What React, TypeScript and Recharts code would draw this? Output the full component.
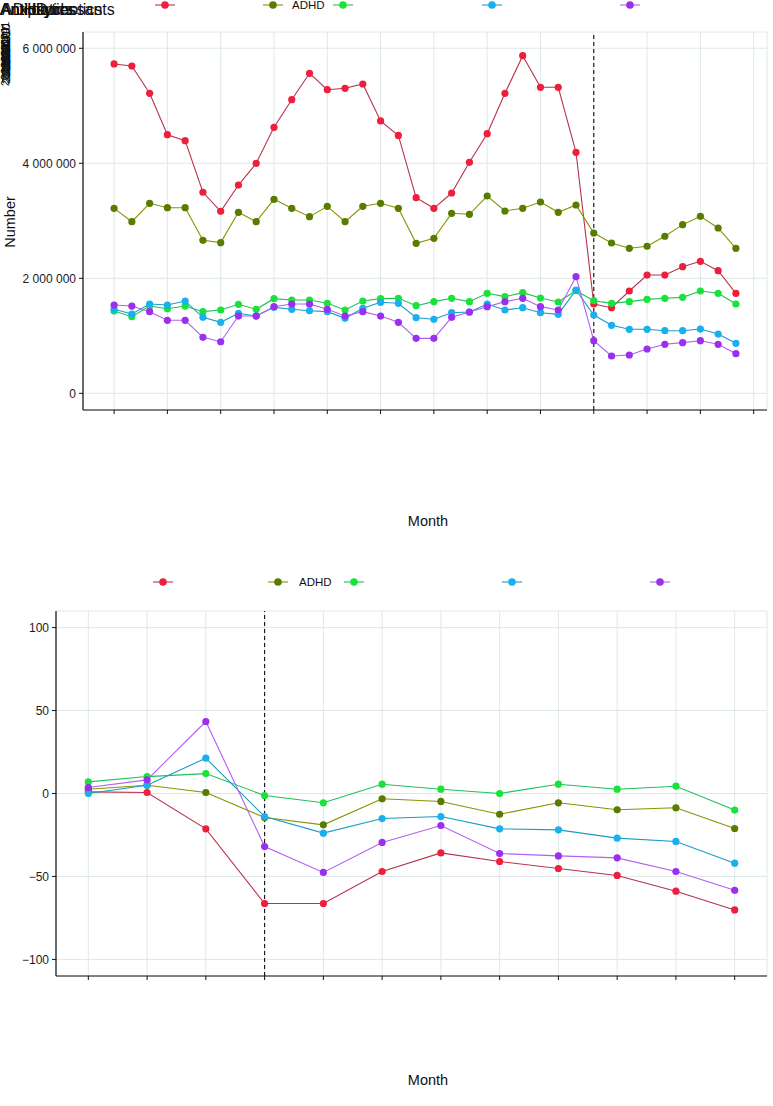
import React from "react";
import { LineChart, Line, XAxis, YAxis, CartesianGrid, ReferenceLine } from "recharts";

// ---------- data ----------
const seriesNames = ["Antibiotics", "ADHD", "Antidepressants", "Antipsychotics", "Anxiolytics"];
const seriesKeys = ["s0", "s1", "s2", "s3", "s4"];
const pointColors = ["#EE1F3D", "#577C00", "#19E33A", "#1AAFEF", "#9A2FF0"];
const lineColors = ["#B8334A", "#8A9300", "#1FC257", "#189DC2", "#B25FF2"];
const legendLabelVisible = [false, true, false, false, false];

// Monthly numbers (36 months), dashed line at month index 27
const monthIndex = Array.from({ length: 36 }, (_, i) => i);
const numS0 = [5727000, 5692000, 5217000, 4497000, 4393000, 3496000, 3165000, 3622000, 4000000, 4626000, 5106000, 5565000, 5280000, 5304000, 5379000, 4736000, 4484000, 3402000, 3217000, 3483000, 4017000, 4515000, 5217000, 5871000, 5321000, 5321000, 4191000, 1553000, 1489000, 1779000, 2057000, 2057000, 2202000, 2295000, 2133000, 1739000];
const numS1 = [3217000, 2985000, 3304000, 3228000, 3228000, 2661000, 2620000, 3148000, 2985000, 3374000, 3217000, 3072000, 3252000, 2985000, 3252000, 3304000, 3217000, 2609000, 2696000, 3130000, 3113000, 3431000, 3170000, 3217000, 3327000, 3148000, 3275000, 2788000, 2614000, 2522000, 2557000, 2731000, 2933000, 3078000, 2875000, 2522000];
const numS2 = [1431000, 1333000, 1518000, 1472000, 1518000, 1420000, 1449000, 1548000, 1461000, 1646000, 1623000, 1623000, 1565000, 1449000, 1605000, 1646000, 1652000, 1524000, 1594000, 1652000, 1594000, 1739000, 1681000, 1750000, 1657000, 1588000, 1785000, 1611000, 1565000, 1594000, 1634000, 1652000, 1669000, 1779000, 1739000, 1553000];
const numS3 = [1461000, 1379000, 1553000, 1536000, 1605000, 1322000, 1235000, 1391000, 1344000, 1495000, 1461000, 1437000, 1420000, 1304000, 1478000, 1583000, 1565000, 1315000, 1287000, 1402000, 1414000, 1553000, 1449000, 1489000, 1402000, 1374000, 1797000, 1362000, 1183000, 1113000, 1113000, 1089000, 1089000, 1118000, 1031000, 870000];
const numS4 = [1536000, 1518000, 1420000, 1270000, 1270000, 974000, 897000, 1344000, 1344000, 1507000, 1553000, 1553000, 1461000, 1344000, 1420000, 1344000, 1235000, 956000, 956000, 1322000, 1414000, 1507000, 1594000, 1652000, 1507000, 1449000, 2028000, 915000, 649000, 666000, 771000, 852000, 881000, 915000, 852000, 689000];
const numTicksX = [0, 3, 6, 9, 12, 15, 18, 21, 24, 27, 30, 33, 36];
const numTicksY = [0, 2000000, 4000000, 6000000];
const numBreak = 27;

// Percent change (12 months), dashed line at index 3
const pctIndex = Array.from({ length: 12 }, (_, i) => i);
const pctS0 = [1, 0.6, -21.3, -66.3, -66.3, -47.0, -35.8, -41.0, -45.2, -49.4, -58.9, -70.2];
const pctS1 = [2.6, 5.0, 0.6, -14.5, -18.9, -3.2, -4.8, -12.5, -5.6, -9.8, -8.6, -21.1];
const pctS2 = [7.0, 10.2, 12.0, -1.2, -5.6, 5.6, 2.6, 0, 5.6, 2.6, 4.4, -10.0];
const pctS3 = [0, 5.0, 21.3, -13.9, -23.9, -15.1, -13.9, -21.3, -21.9, -26.9, -28.9, -42.0];
const pctS4 = [3.6, 8.2, 43.4, -32.0, -47.6, -29.5, -19.3, -36.2, -37.6, -38.8, -47.0, -58.3];
const pctTicksY = [-100, -50, 0, 50, 100];
const pctBreak = 3;

const xTickLabels = ["2018-01", "2018-04", "2018-07", "2018-10", "2019-01", "2019-04", "2019-07", "2019-10", "2020-01", "2020-04", "2020-07", "2020-10", "2021-01"];

// ---------- helpers ----------
const numRows = monthIndex.map((i) => ({ i, s0: numS0[i], s1: numS1[i], s2: numS2[i], s3: numS3[i], s4: numS4[i] }));
const pctRows = pctIndex.map((i) => ({ i, s0: pctS0[i], s1: pctS1[i], s2: pctS2[i], s3: pctS3[i], s4: pctS4[i] }));

const FONT = "'Liberation Sans', Arial, sans-serif";
const GRID = "#DFE8E8";
const fmtSpace = (v: number) => String(v).replace(/\B(?=(\d{3})+(?!\d))/g, " ");
const fmtMinus = (v: number) => (v < 0 ? "\u2212" + Math.abs(v) : String(v));

function seriesLines() {
  return seriesKeys.map((k, idx) => (
    <Line
      key={k}
      type="linear"
      dataKey={k}
      stroke={lineColors[idx]}
      strokeWidth={1.1}
      dot={{ r: 3.6, fill: pointColors[idx], stroke: "none" }}
      activeDot={false}
      isAnimationActive={false}
    />
  ));
}

function LegendRow({ y, keyX, textX }: { y: number; keyX: number[]; textX: number[] }) {
  return (
    <g>
      {seriesKeys.map((k, idx) => (
        <g key={k}>
          <line x1={keyX[idx] - 10} x2={keyX[idx] + 10} y1={y} y2={y} stroke={lineColors[idx]} strokeWidth={1.1} />
          <circle cx={keyX[idx]} cy={y} r={3.8} fill={pointColors[idx]} />
          {legendLabelVisible[idx] && (
            <text x={textX[idx]} y={y + 4} fontSize={11.5} fontFamily={FONT} fill="#111">
              {seriesNames[idx]}
            </text>
          )}
        </g>
      ))}
    </g>
  );
}

export default function App() {
  return (
    <div style={{ position: "absolute", left: 0, top: 0, width: 773, height: 1106, background: "#fff", fontFamily: FONT }}>
      {/* Top panel: numbers */}
      <div style={{ position: "absolute", left: 0, top: 0 }}>
        <LineChart width={773} height={560} data={numRows} margin={{ top: 32, right: 6, bottom: 130, left: 13 }}>
          <CartesianGrid stroke={GRID} strokeWidth={1} />
          <XAxis
            dataKey="i"
            type="number"
            domain={[-1.75, 36.75]}
            allowDataOverflow
            ticks={numTicksX}
            tickFormatter={() => ""}
            tickSize={4}
            height={20}
            axisLine={{ stroke: "#111", strokeWidth: 1.2 }}
            tickLine={{ stroke: "#111" }}
            interval={0}
          />
          <XAxis xAxisId="top" dataKey="i" type="number" orientation="top" domain={[-1.75, 36.75]} allowDataOverflow height={0} tick={false} tickLine={false} axisLine={{ stroke: "#111", strokeWidth: 1.2 }} />
          <YAxis
            type="number"
            domain={[-290000, 6283000]}
            allowDataOverflow
            ticks={numTicksY}
            tickFormatter={fmtSpace}
            width={70}
            tickSize={4}
            tickMargin={3}
            interval={0}
            axisLine={{ stroke: "#111", strokeWidth: 1.2 }}
            tickLine={{ stroke: "#111" }}
            tick={{ fill: "#1a1a2a", fontSize: 12, fontFamily: FONT }}
          />
          <YAxis yAxisId="right" orientation="right" type="number" domain={[0, 1]} width={0} tick={false} tickLine={false} axisLine={{ stroke: "#111", strokeWidth: 1.2 }} />
          <ReferenceLine x={numBreak} stroke="#111" strokeWidth={1.1} strokeDasharray="4 3" />
          {seriesLines()}
        </LineChart>
      </div>

      {/* Bottom panel: percent change */}
      <div style={{ position: "absolute", left: 0, top: 560 }}>
        <LineChart width={773} height={546} data={pctRows} margin={{ top: 51, right: 6, bottom: 110, left: 16 }}>
          <CartesianGrid stroke={GRID} strokeWidth={1} />
          <XAxis
            dataKey="i"
            type="number"
            domain={[-0.55, 11.55]}
            allowDataOverflow
            ticks={pctIndex}
            tickFormatter={() => ""}
            tickSize={4}
            height={20}
            interval={0}
            axisLine={{ stroke: "#111", strokeWidth: 1.2 }}
            tickLine={{ stroke: "#111" }}
          />
          <XAxis xAxisId="top" dataKey="i" type="number" orientation="top" domain={[-0.55, 11.55]} allowDataOverflow height={0} tick={false} tickLine={false} axisLine={{ stroke: "#111", strokeWidth: 1.2 }} />
          <YAxis
            type="number"
            domain={[-110, 110]}
            allowDataOverflow
            ticks={pctTicksY}
            tickFormatter={fmtMinus}
            width={40}
            tickSize={4}
            tickMargin={3}
            interval={0}
            axisLine={{ stroke: "#111", strokeWidth: 1.2 }}
            tickLine={{ stroke: "#111" }}
            tick={{ fill: "#1a1a2a", fontSize: 12, fontFamily: FONT }}
          />
          <YAxis yAxisId="right" orientation="right" type="number" domain={[0, 1]} width={0} tick={false} tickLine={false} axisLine={{ stroke: "#111", strokeWidth: 1.2 }} />
          <ReferenceLine x={pctBreak} stroke="#111" strokeWidth={1.1} strokeDasharray="4 3" />
          {seriesLines()}
        </LineChart>
      </div>

      {/* Overlay: legends, titles, overlapping labels */}
      <svg width={773} height={1106} style={{ position: "absolute", left: 0, top: 0, pointerEvents: "none" }}>
        {/* overlapping legend labels at top-left */}
        {seriesNames.map((n, idx) => (
          <text key={"ov" + idx} x={idx === 1 ? 2 : 0} y={15} fontSize={16} fontFamily={FONT} fill="#111">
            {n}
          </text>
        ))}
        {/* overlapping rotated tick labels on the left edge */}
        {xTickLabels.map((t, idx) => (
          <text
            key={"rt" + idx}
            transform={`translate(${9 + (idx % 3) * 0.6}, ${86 - idx * 2}) rotate(-90)`}
            fontSize={11}
            fontFamily={FONT}
            fill="#111"
          >
            {t}
          </text>
        ))}
        <LegendRow y={5} keyX={[165, 273, 343, 492, 630]} textX={[0, 292, 0, 0, 0]} />
        <LegendRow y={582} keyX={[163, 278, 354, 512, 660]} textX={[0, 299, 0, 0, 0]} />
        <text transform="translate(15, 222) rotate(-90)" textAnchor="middle" fontSize={14.5} fontFamily={FONT} fill="#111">
          Number
        </text>
        <text x={428} y={526} textAnchor="middle" fontSize={14.5} fontFamily={FONT} fill="#111">
          Month
        </text>
        <text x={428} y={1085} textAnchor="middle" fontSize={14.5} fontFamily={FONT} fill="#111">
          Month
        </text>
      </svg>
    </div>
  );
}
